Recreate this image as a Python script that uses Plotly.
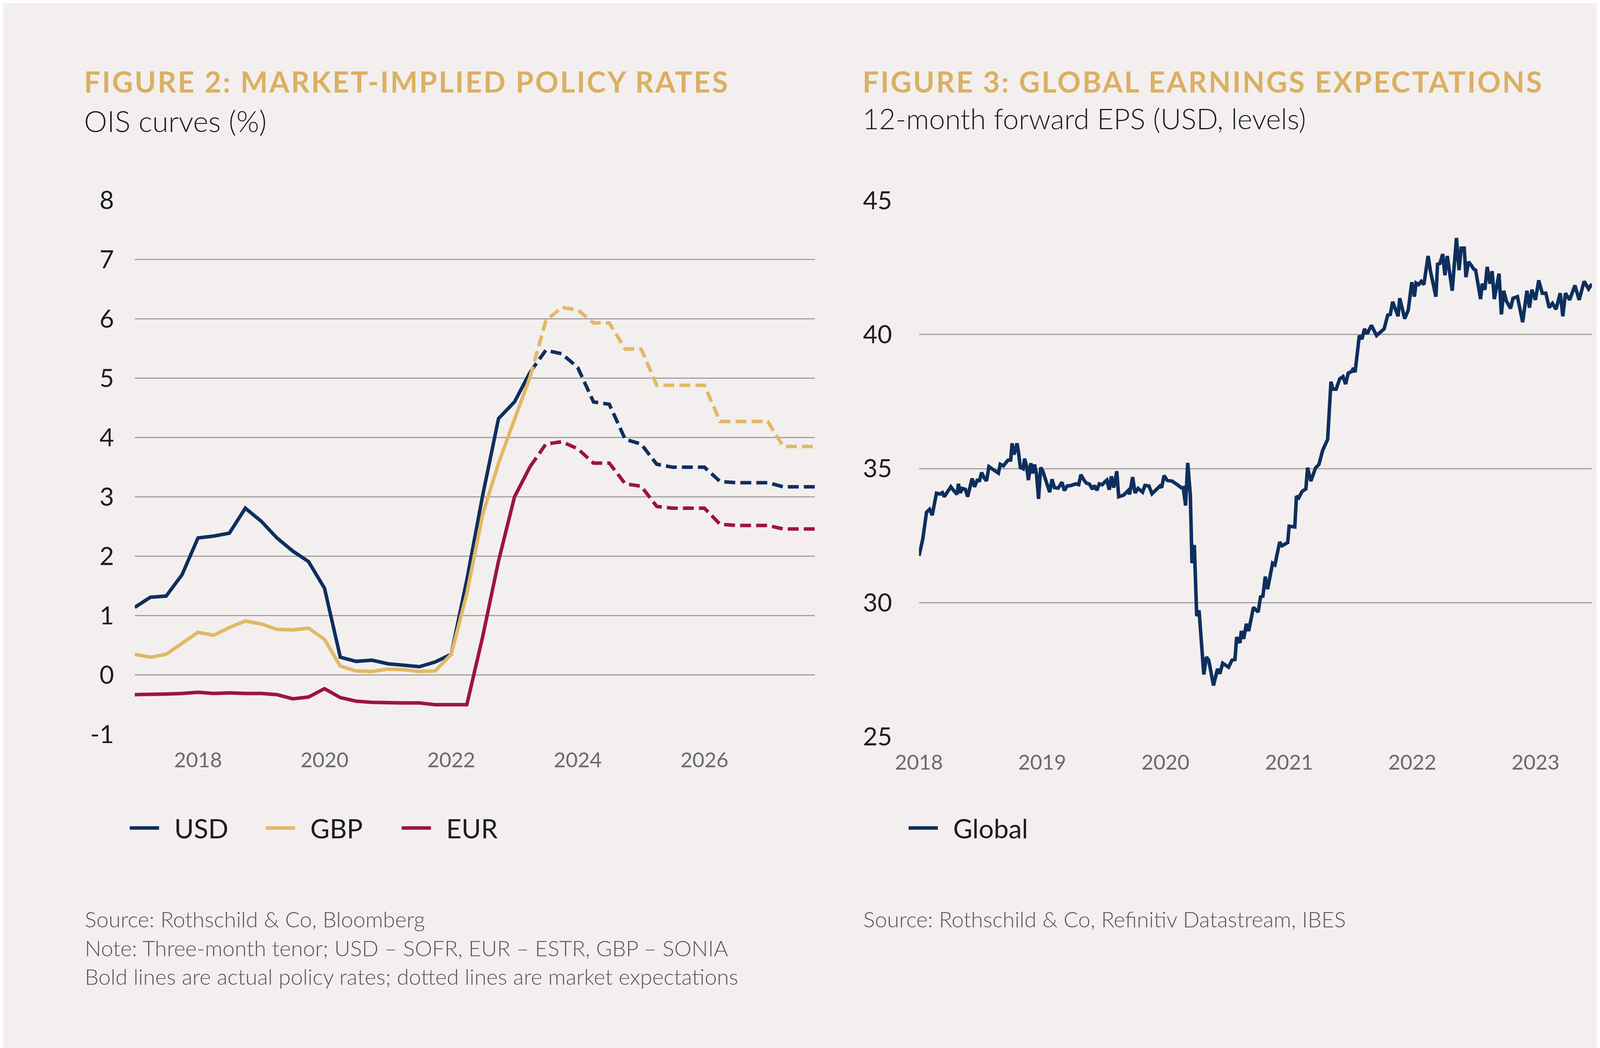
import numpy as np
import pandas as pd
import plotly.graph_objects as go

# ---- Figure 2: OIS curves (%), quarterly, actual to Q2 2023 then market-implied ----
quarters = pd.date_range("2017-01-01", periods=44, freq="3MS")
split = 25  # first point of the market-expectation part

usd = [1.14, 1.31, 1.33, 1.69, 2.31, 2.34, 2.39, 2.81, 2.59, 2.31, 2.09, 1.91,
       1.46, 0.30, 0.23, 0.25, 0.19, 0.16, 0.14, 0.22, 0.35, 1.60, 3.02, 4.32,
       4.60, 5.10, 5.47, 5.41, 5.18, 4.60, 4.56, 3.97, 3.89, 3.55, 3.50, 3.50,
       3.50, 3.26, 3.24, 3.24, 3.24, 3.17, 3.17, 3.17]
gbp = [0.35, 0.30, 0.35, 0.53, 0.72, 0.67, 0.80, 0.91, 0.86, 0.77, 0.76, 0.79,
       0.60, 0.15, 0.07, 0.06, 0.10, 0.09, 0.06, 0.07, 0.35, 1.37, 2.70, 3.57,
       4.31, 5.02, 5.97, 6.19, 6.15, 5.93, 5.93, 5.49, 5.49, 4.88, 4.88, 4.88,
       4.88, 4.27, 4.27, 4.27, 4.27, 3.85, 3.85, 3.85]
eur = [-0.33, -0.33, -0.32, -0.31, -0.29, -0.31, -0.30, -0.31, -0.31, -0.33, -0.40, -0.37,
       -0.23, -0.38, -0.44, -0.46, -0.47, -0.47, -0.47, -0.50, -0.50, -0.50, 0.64, 1.92,
       3.00, 3.51, 3.89, 3.93, 3.81, 3.57, 3.57, 3.22, 3.18, 2.84, 2.81, 2.81,
       2.81, 2.54, 2.52, 2.52, 2.52, 2.46, 2.46, 2.46]

rate_ticks = [-1, 0, 1, 2, 3, 4, 5, 6, 7, 8]
rate_ticklabels = ["-1", "0", "1", "2", "3", "4", "5", "6", "7", "8"]

# ---- Figure 3: 12m forward EPS, weekly (weeks after 1 Jan 2018) ----
eps_week = [0, 1.6, 3.2, 4.5, 5.6, 7.4, 9.0, 9.9, 10.7, 12.0, 13.5, 14.6, 16.1, 16.7, 17.5,
            18.3, 19.6, 20.6, 21.9, 22.5, 23.5, 24.8, 25.5, 26.5, 27.6, 28.6, 29.6, 30.9,
            32.2, 33.6, 34.4, 35.7, 36.7, 37.6, 38.8, 39.4, 40.2, 41.5, 42.2, 42.9, 44.1,
            44.7, 45.5, 46.3, 47.3, 48.1, 48.9, 49.7, 50.6, 51.5, 52.4, 53.8, 55.3, 56.3,
            57.3, 58.9, 60.5, 61.5, 62.7, 64.4, 66.3, 67.6, 68.5, 69.8, 70.8, 72.1, 73.4,
            74.2, 75.3, 76.3, 77.6, 78.5, 79.5, 80.5, 81.4, 82.4, 83.7, 84.5, 86.6, 88.5,
            89.1, 90.4, 91.4, 92.7, 93.7, 94.6, 95.6, 97.3, 98.6, 100.3, 102.0, 102.7,
            103.7, 105.0, 107.1, 109.1, 111.1, 111.8, 112.8, 113.7, 114.8, 115.5, 116.5,
            117.5, 118.5, 120.5, 121.6, 122.6, 124.6, 126.3, 127.3, 128.5, 131.0, 132.4,
            133.7, 134.4, 135.8, 136.4, 137.4, 138.5, 139.5, 141.5, 143.5, 144.5, 145.5,
            146.5, 147.5, 149.6, 150.6, 152.6, 153.6, 156.0, 156.6, 159.0, 159.7, 160.7,
            162.1, 163.7, 164.4, 165.8, 167.8, 169.2, 170.8, 172.9, 174.3, 175.1, 176.5,
            178.0, 179.4, 180.5, 181.6, 183.1, 183.8, 184.5, 186.3, 187.4, 188.5, 189.6,
            191.4, 193.6, 195.0, 196.1, 196.8, 198.3, 199.4, 200.4, 202.7, 203.4, 205.5,
            207.0, 208.5, 209.6, 210.3, 211.4, 212.5, 213.6, 215.4, 216.4, 218.7, 219.4,
            220.4, 221.6, 222.5, 223.5, 225.6, 227.4, 228.5, 229.4, 230.7, 231.4, 232.5,
            233.6, 234.7, 235.5, 237.6, 238.3, 239.4, 240.4, 241.6, 242.5, 243.4, 245.4,
            246.4, 247.4, 248.5, 250.3, 251.3, 253.2, 255.4, 257.2, 258.3, 259.3, 260.8,
            262.2, 263.7, 265.2, 266.6, 268.0, 269.5, 271.3, 272.4, 273.5, 275.3, 277.5,
            279.3, 281.4, 283.3, 284.7]
eps_value = [31.74, 32.36, 33.37, 33.48, 33.26, 34.08, 34.05, 34.10, 33.95, 34.10, 34.32,
             34.19, 34.04, 34.43, 34.09, 34.26, 34.23, 33.95, 34.46, 34.63, 34.32, 34.60,
             34.51, 34.85, 34.65, 34.54, 35.07, 34.99, 34.88, 34.83, 35.16, 35.10, 35.21,
             35.31, 35.32, 35.94, 35.52, 35.94, 35.55, 35.04, 34.99, 35.37, 35.10, 34.57,
             35.20, 34.82, 35.15, 34.82, 33.87, 35.04, 34.90, 34.54, 34.12, 34.60, 34.29,
             34.27, 34.49, 34.18, 34.35, 34.37, 34.43, 34.40, 34.77, 34.57, 34.46, 34.42,
             34.23, 34.37, 34.19, 34.43, 34.40, 34.49, 34.57, 34.21, 34.71, 34.29, 34.90,
             33.95, 34.01, 34.18, 34.04, 34.68, 34.09, 34.26, 34.18, 34.12, 34.37, 34.35,
             34.06, 34.21, 34.35, 34.29, 34.74, 34.56, 34.53, 34.41, 34.28, 34.29, 33.62,
             35.21, 34.03, 31.47, 32.15, 29.50, 29.71, 27.32, 27.97, 27.85, 26.91, 27.53,
             27.35, 27.74, 27.59, 27.85, 27.88, 28.71, 28.50, 28.94, 28.65, 29.21, 28.94,
             29.82, 29.65, 30.21, 30.24, 30.97, 30.50, 31.47, 31.41, 32.26, 32.12, 32.24,
             32.85, 32.82, 33.97, 33.91, 34.15, 34.24, 35.03, 34.53, 35.03, 35.15, 35.68,
             36.09, 38.24, 37.96, 37.96, 38.34, 38.43, 38.15, 38.56, 38.62, 38.75, 38.59,
             39.96, 39.83, 40.21, 40.02, 40.34, 39.96, 40.08, 40.18, 40.21, 40.72, 40.75,
             41.22, 40.68, 41.35, 40.59, 40.91, 41.95, 41.41, 41.92, 41.86, 41.98, 41.86,
             42.93, 42.36, 41.41, 42.62, 42.65, 43.00, 42.21, 42.93, 41.63, 43.60, 42.40,
             43.22, 43.22, 42.14, 42.71, 42.59, 42.44, 42.40, 41.32, 41.89, 41.67, 42.52,
             41.89, 42.36, 41.32, 42.27, 40.75, 41.63, 41.25, 40.97, 41.35, 41.41, 40.46,
             41.63, 41.00, 41.67, 41.29, 42.02, 41.54, 41.54, 41.00, 41.16, 40.94, 41.54,
             40.68, 41.54, 41.29, 41.83, 41.29, 41.98, 41.70, 41.89]
eps_dates = pd.Timestamp("2018-01-01") + pd.to_timedelta(np.array(eps_week) * 7, unit="D")

W, H = 4224, 2684
BG = "#F3EFEE"
NAVY = "#0E2F5E"
GOLD = "#E2B866"
CRIMSON = "#9E1344"
TITLE_GOLD = "#DAB062"
GRID = "#A3A09F"
FONT = "Lato"
GAP = "\u2002"  # space between legend line and label

fig = go.Figure()

for name, vals, col in [("USD", usd, NAVY), ("GBP", gbp, GOLD), ("EUR", eur, CRIMSON)]:
    fig.add_trace(go.Scatter(x=quarters[:split + 1], y=vals[:split + 1], name=GAP + name, mode="lines",
                             line=dict(color=col, width=9), legend="legend", legendgroup=name))
    fig.add_trace(go.Scatter(x=quarters[split:], y=vals[split:], name=name, mode="lines",
                             line=dict(color=col, width=9, dash="28px,13px"),
                             showlegend=False, legendgroup=name))

fig.add_trace(go.Scatter(x=eps_dates, y=eps_value, name=GAP + "Global", mode="lines",
                         line=dict(color=NAVY, width=9), xaxis="x2", yaxis="y2",
                         legend="legend2"))

fig.update_layout(
    width=W, height=H,
    paper_bgcolor=BG, plot_bgcolor=BG,
    margin=dict(l=0, r=0, t=0, b=0),
    font=dict(family=FONT, color="#1d1d1d"),
    xaxis=dict(domain=[280 / W, 2047 / W], type="date",
               range=[quarters[0], quarters[-1]],
               tick0="2018-01-01", dtick="M24", tickformat="%Y",
               showgrid=False, zeroline=False, showline=False, ticks="",
               tickfont=dict(size=53, color="#6a6a6a"), ticklabelstandoff=30),
    yaxis=dict(domain=[1 - 1886 / H, 1 - 477 / H], range=[-1, 8],
               tickvals=rate_ticks, ticktext=rate_ticklabels,
               gridcolor=GRID, gridwidth=3, zeroline=False, showline=False, ticks="",
               tickfont=dict(size=64, color="#1d1d1d"), ticklabelstandoff=52),
    xaxis2=dict(domain=[2317 / W, 4065 / W], anchor="y2", type="date",
                range=[eps_dates[0], eps_dates[-1]],
                tick0="2018-01-01", dtick="M12", tickformat="%Y",
                showgrid=False, zeroline=False, showline=False, ticks="",
                tickfont=dict(size=53, color="#6a6a6a"), ticklabelstandoff=30),
    yaxis2=dict(domain=[1 - 1892 / H, 1 - 478 / H], anchor="x2", range=[25, 45], dtick=5,
                gridcolor=GRID, gridwidth=3, zeroline=False, showline=False, ticks="",
                tickfont=dict(size=64, color="#1d1d1d"), ticklabelstandoff=68),
    legend=dict(orientation="h", x=262 / W, y=1 - 2133 / H, xanchor="left", yanchor="middle",
                font=dict(size=68, color="#1d1d1d"), bgcolor="rgba(0,0,0,0)",
                itemwidth=75, entrywidth=258, entrywidthmode="pixels"),
    legend2=dict(orientation="h", x=2285 / W, y=1 - 2133 / H, xanchor="left", yanchor="middle",
                 font=dict(size=68, color="#1d1d1d"), bgcolor="rgba(0,0,0,0)", itemwidth=75),
)

TRACK = '<span style="letter-spacing:4px">{}</span>'
texts = [
    (146, 164, TRACK.format("FIGURE 2: MARKET-IMPLIED POLICY RATES"), 74, TITLE_GOLD, 700),
    (146, 268, "OIS curves (%)", 75, "#1d1d1d", 300),
    (2168, 164, TRACK.format("FIGURE 3: GLOBAL EARNINGS EXPECTATIONS"), 74, TITLE_GOLD, 700),
    (2168, 262, "12-month forward EPS (USD, levels)", 73, "#1d1d1d", 300),
    (148, 2373, "Source: Rothschild & Co, Bloomberg", 56, "#555555", 300),
    (148, 2449, "Note: Three-month tenor; USD \u2013 SOFR, EUR \u2013 ESTR, GBP \u2013 SONIA", 56, "#555555", 300),
    (148, 2524, "Bold lines are actual policy rates; dotted lines are market expectations", 56, "#555555", 300),
    (2170, 2373, "Source: Rothschild & Co, Refinitiv Datastream, IBES", 56, "#555555", 300),
]
for x, y, t, size, col, weight in texts:
    fig.add_annotation(x=x / W, y=1 - y / H, xref="paper", yref="paper", text=t,
                       showarrow=False, xanchor="left", yanchor="middle",
                       font=dict(family=FONT, size=size, color=col, weight=weight))

fig.write_html("out.html")
